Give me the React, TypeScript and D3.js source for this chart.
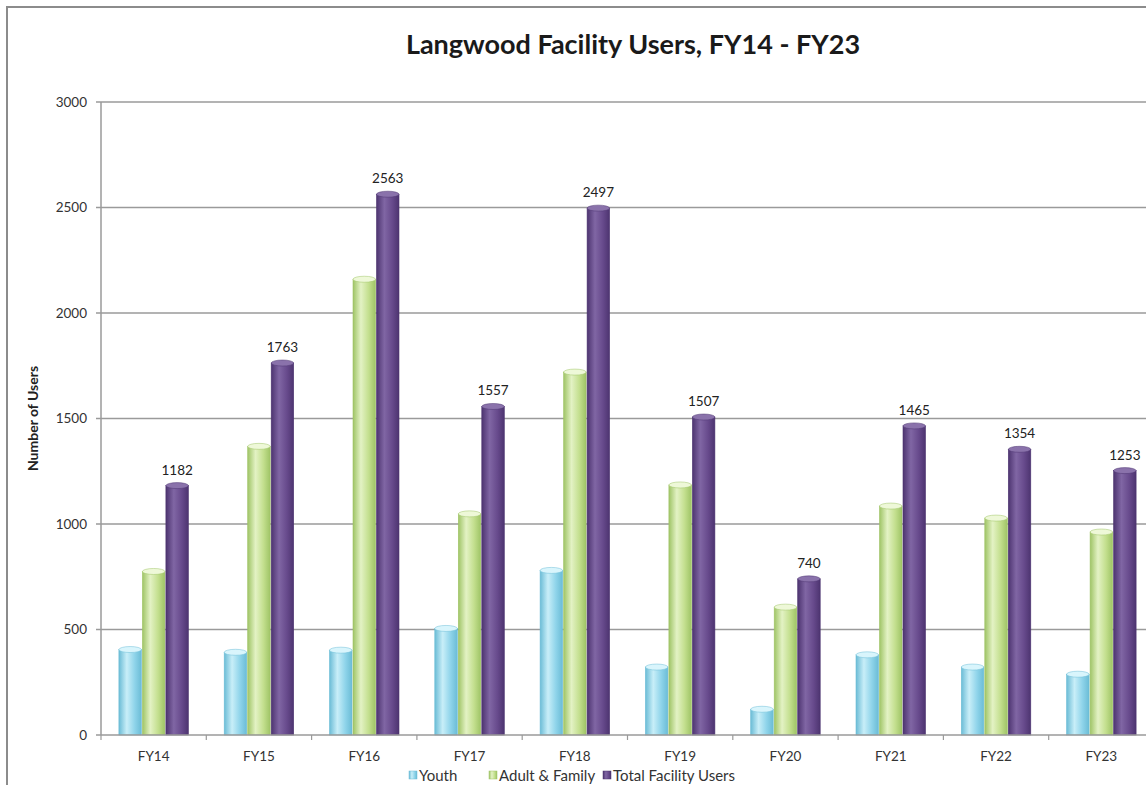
import React from "react";
import * as d3 from "d3";

const categories = ["FY14", "FY15", "FY16", "FY17", "FY18", "FY19", "FY20", "FY21", "FY22", "FY23"];
const youth = [405, 392, 402, 505, 780, 322, 122, 380, 322, 288];
const adultFamily = [775, 1368, 2160, 1048, 1720, 1185, 606, 1085, 1028, 962];
const totalUsers = [1182, 1763, 2563, 1557, 2497, 1507, 740, 1465, 1354, 1253];
const yTicks = [0, 500, 1000, 1500, 2000, 2500, 3000];
const seriesNames = ["Youth", "Adult & Family", "Total Facility Users"];

const W = 1146;
const H = 785;
const FONT = "Lato, 'Open Sans', sans-serif";

const colors = [
  { base: "#8fd4ea", light: "#c8eef8", dark: "#6bbcd6", cap: "#d9f5fc" },
  { base: "#c3df8e", light: "#e3f2c4", dark: "#9fc466", cap: "#eef8d8" },
  { base: "#674a8c", light: "#8066a4", dark: "#4d3470", cap: "#8a72ab" },
];

export default function App() {
  const left = 101;
  const top = 102;
  const bottom = 735;
  const band = 105.3;
  const x = d3
    .scaleBand<string>()
    .domain(categories)
    .range([left, left + band * categories.length])
    .paddingInner(0)
    .paddingOuter(0);
  const y = d3.scaleLinear().domain([0, 3000]).range([bottom, top]);
  const barW = 23.5;
  const groupW = barW * 3;
  const series = [youth, adultFamily, totalUsers];

  return (
    <svg width={W} height={H} style={{ position: "absolute", left: 0, top: 0, background: "#fff" }}>
      <defs>
        {colors.map((c, i) => (
          <linearGradient key={i} id={`g${i}`} x1="0" x2="1" y1="0" y2="0">
            <stop offset="0%" stopColor={c.dark} />
            <stop offset="35%" stopColor={c.light} />
            <stop offset="70%" stopColor={c.base} />
            <stop offset="100%" stopColor={c.dark} />
          </linearGradient>
        ))}
      </defs>
      <rect x={0} y={0} width={W} height={H} fill="#fff" />
      {/* outer chart border */}
      <path d={`M7,${H + 5} L7,7 L${W + 5},7`} fill="none" stroke="#8c8c8c" strokeWidth={2} />

      <text x={633} y={54} textAnchor="middle" fontFamily={FONT} fontWeight="bold" fontSize={27} fill="#1a1a1a">
        Langwood Facility Users, FY14 - FY23
      </text>

      {/* gridlines */}
      {yTicks.map((t) => (
        <g key={t}>
          {t > 0 && <line x1={left} x2={W} y1={y(t)} y2={y(t)} stroke="#9a9a9a" strokeWidth={1.5} />}
          <line x1={left - 5} x2={left} y1={y(t)} y2={y(t)} stroke="#9a9a9a" strokeWidth={1.5} />
          <text x={left - 14} y={y(t) + 4.5} textAnchor="end" fontFamily={FONT} fontSize={13.5} fill="#333">
            {t}
          </text>
        </g>
      ))}

      {/* bars */}
      {categories.map((cat, ci) => {
        const gx = (x(cat) as number) + (band - groupW) / 2;
        return (
          <g key={cat}>
            {series.map((s, si) => {
              const bx = gx + si * barW;
              const by = y(s[ci]);
              const bh = bottom - by;
              return (
                <g key={si}>
                  <rect x={bx + 0.5} y={by} width={barW - 1} height={bh} fill={`url(#g${si})`} stroke={colors[si].dark} strokeWidth={0.6} />
                  <ellipse cx={bx + barW / 2} cy={by} rx={(barW - 1) / 2} ry={3} fill={colors[si].cap} stroke={colors[si].dark} strokeWidth={0.5} />
                </g>
              );
            })}
            <text
              x={gx + 2.5 * barW}
              y={y(totalUsers[ci]) - 11}
              textAnchor="middle"
              fontFamily={FONT}
              fontSize={13.5}
              fill="#222"
            >
              {totalUsers[ci]}
            </text>
          </g>
        );
      })}

      {/* axes */}
      <line x1={left} x2={left} y1={top} y2={bottom} stroke="#9a9a9a" strokeWidth={1.5} />
      <line x1={left} x2={W} y1={bottom} y2={bottom} stroke="#9a9a9a" strokeWidth={1.5} />
      {categories.map((cat) => (
        <g key={cat}>
          <line x1={(x(cat) as number)} x2={(x(cat) as number)} y1={bottom} y2={bottom + 5} stroke="#9a9a9a" strokeWidth={1.2} />
          <text x={(x(cat) as number) + band / 2} y={761} textAnchor="middle" fontFamily={FONT} fontSize={13.5} fill="#333">
            {cat}
          </text>
        </g>
      ))}

      <text
        transform={`translate(38,${y(1500)}) rotate(-90)`}
        textAnchor="middle"
        fontFamily={FONT}
        fontWeight="bold"
        fontSize={14}
        fill="#222"
      >
        Number of Users
      </text>

      {/* legend */}
      {(() => {
        const items = [
          { x: 409, label: seriesNames[0] },
          { x: 489, label: seriesNames[1] },
          { x: 603, label: seriesNames[2] },
        ];
        return items.map((it, i) => (
          <g key={i}>
            <rect x={it.x} y={771} width={8} height={8} fill={`url(#g${i})`} stroke={colors[i].dark} strokeWidth={0.5} />
            <text x={it.x + 10} y={781} fontFamily={FONT} fontSize={15} fill="#333">
              {it.label}
            </text>
          </g>
        ));
      })()}
    </svg>
  );
}
